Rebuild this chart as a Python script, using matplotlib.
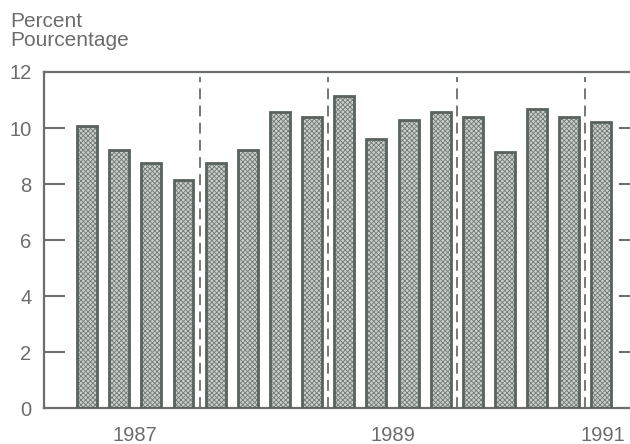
import matplotlib
matplotlib.use("Agg")
import matplotlib.pyplot as plt
import numpy as np

plt.rcParams['font.family'] = ['Liberation Sans', 'DejaVu Sans']
plt.rcParams['hatch.linewidth'] = 0.6

# Quarterly values, 1987Q1 .. 1991Q1
values = [10.07, 9.21, 8.74, 8.14,
          8.74, 9.21, 10.56, 10.38,
          11.14, 9.60, 10.29, 10.57,
          10.39, 9.15, 10.68, 10.39,
          10.20]
year_labels = ['1987', '1989', '1991']
year_label_pos = [1.5, 9.5, 16.05]
year_breaks = [3.5, 7.5, 11.5, 15.5]
yticks = [0, 2, 4, 6, 8, 10, 12]

text_col = '#6a6d6b'
line_col = '#687069'
bar_edge = '#59625d'
hatch_col = '#737b76'
bar_face = '#cbcfcc'

W, H = 630, 444
fig = plt.figure(figsize=(W / 100, H / 100), dpi=100)
ax = fig.add_axes([44 / W, (H - 408) / H, (640 - 44) / W, (408 - 72) / H])

x = np.arange(len(values))
ax.bar(x, values, width=0.62, facecolor=bar_face, edgecolor=hatch_col,
       linewidth=0, hatch='xxxxxxx', zorder=2)
ax.bar(x, values, width=0.62, facecolor='none', edgecolor=bar_edge,
       linewidth=2.0, zorder=3)

for b in year_breaks:
    ax.axvline(b, ymax=0.985, color=line_col, linestyle=(0, (6, 3.5)),
               linewidth=1.3, zorder=1)

ax.set_xlim(-1.34, 17.2)
ax.set_ylim(0, 12)
ax.set_yticks(yticks)
ax.set_yticklabels([str(t) for t in yticks])
ax.set_xticks(year_label_pos)
ax.set_xticklabels(year_labels)

for s in ax.spines.values():
    s.set_color(line_col)
    s.set_linewidth(1.6)

ax.tick_params(axis='y', direction='in', length=15, width=1.5, color=line_col,
               labelcolor=text_col, labelsize=14.5, pad=9, right=True)
ax.tick_params(axis='x', length=0, labelcolor=text_col, labelsize=14.5, pad=13)
for t in (ax.yaxis.get_major_ticks()[0], ax.yaxis.get_major_ticks()[-1]):
    t.tick1line.set_visible(False)
    t.tick2line.set_visible(False)

fig.text(10 / W, 1 - 27 / H, 'Percent', color=text_col, fontsize=15, va='baseline', ha='left')
fig.text(10 / W, 1 - 46 / H, 'Pourcentage', color=text_col, fontsize=15, va='baseline', ha='left')

fig.savefig('out.png', dpi=100, facecolor='white')
